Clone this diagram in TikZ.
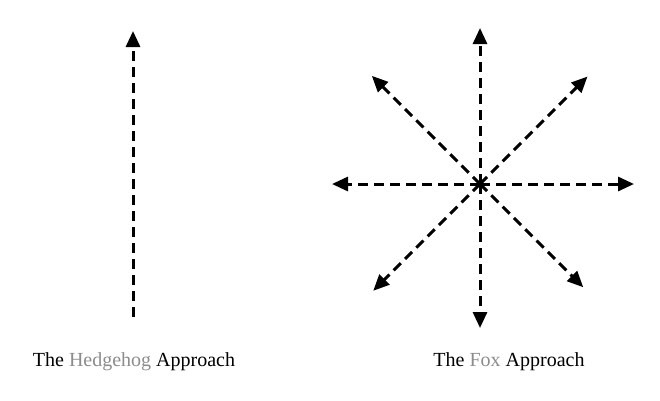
\documentclass[tikz,border=0pt]{standalone}
\usepackage{fontspec}
\setmainfont{Liberation Serif}
\usetikzlibrary{arrows.meta}
\definecolor{labelgray}{HTML}{8C8C8C}

\begin{document}
\begin{tikzpicture}
[x=1pt,y=-1pt,
 ray/.style={line width=3pt,dash pattern=on 10pt off 6pt,-{Triangle[length=16pt,width=14pt]}},
 caption/.style={font=\fontsize{20}{24}\selectfont,text=black,inner sep=0pt,anchor=base}]
\useasboundingbox (0,0) rectangle (660,400);

% hedgehog: one direction
\coordinate (hbase) at (133,317);
\coordinate (htip) at (133,31);
\draw[ray] (hbase) -- (htip);
\node[caption] (hlabel) at (134,366) {The \textcolor{labelgray}{Hedgehog} Approach};

% fox: many directions
\coordinate (fcenter) at (480,184);
\foreach \ang/\len in {0/154,45/152,90/156,135/153,180/148,225/151,270/144,315/146}
\draw[ray] (fcenter) -- ++(-\ang:\len);
\node[caption] (flabel) at (509,366) {The \textcolor{labelgray}{Fox} Approach};

\end{tikzpicture}
\end{document}
